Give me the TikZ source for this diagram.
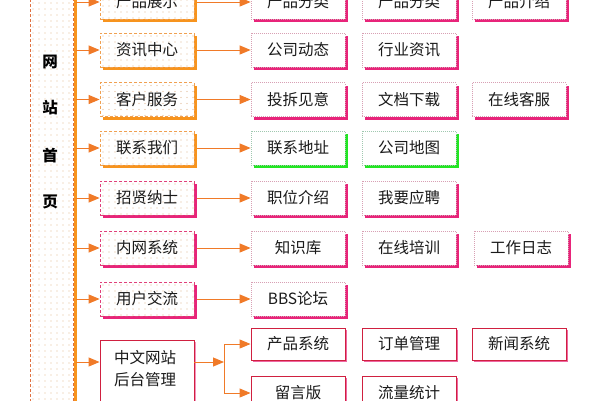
\documentclass[tikz,border=0pt]{standalone}
\usepackage{fontspec}
\setmainfont{Noto Sans CJK SC}
\usetikzlibrary{arrows.meta,shadows}
\definecolor{trunkc}{HTML}{F7941E}
\definecolor{arrc}{HTML}{F07A28}
\definecolor{midor}{HTML}{F0A050}
\definecolor{midpk}{HTML}{E0407A}
\definecolor{shpk}{HTML}{E8247A}
\definecolor{shgr}{HTML}{22E622}
\definecolor{rbord}{HTML}{D8A0B4}
\definecolor{gbord}{HTML}{A0C8B0}
\definecolor{crim}{HTML}{D02040}
\definecolor{dotc}{HTML}{E0B890}
\definecolor{panelc}{HTML}{E07040}
\definecolor{txtc}{HTML}{1A1A1A}
\newcommand{\fs}{\fontsize{15.5}{18}\selectfont}
\tikzset{
  x=1pt, y=-1pt,
  dotty/.style={path picture={\foreach \i in {0,...,16}{\foreach \j in {0,...,12}{%
     \fill[dotc] ([xshift=\i*6pt+3pt,yshift=-\j*6pt-3pt]path picture bounding box.north west) circle (0.6pt);}}}},
  base/.style={minimum width=94pt, minimum height=34pt, inner sep=0pt, font=\fs, text=txtc, fill=white},
  midO/.style={base, dotty, draw=midor, dash pattern=on 3pt off 2pt, line width=0.8pt,
     drop shadow={shadow xshift=3pt,shadow yshift=-3pt,fill=trunkc,opacity=1}},
  midP/.style={base, dotty, draw=midpk, dash pattern=on 3pt off 2pt, line width=0.8pt,
     drop shadow={shadow xshift=3pt,shadow yshift=-3pt,fill=shpk,opacity=1}},
  rbox/.style={base, draw=rbord, dash pattern=on 1pt off 1pt, line width=0.7pt,
     drop shadow={shadow xshift=3pt,shadow yshift=-3pt,fill=shpk,opacity=1}},
  gbox/.style={base, draw=gbord, dash pattern=on 1pt off 1pt, line width=0.7pt,
     drop shadow={shadow xshift=3pt,shadow yshift=-3pt,fill=shgr,opacity=1}},
  cbox/.style={base, draw=crim, line width=0.9pt,
     drop shadow={shadow xshift=1.5pt,shadow yshift=-1.5pt,fill=shpk!70,opacity=1}},
  arr/.style={draw=arrc, line width=1pt, -{Triangle[length=11pt,width=9pt]}, arrc},
  ln/.style={draw=arrc, line width=1pt},
  side/.style={font=\fontsize{15.5}{18}\selectfont\bfseries, text=black, inner sep=0pt}
}
\begin{document}
\begin{tikzpicture}
\useasboundingbox (0,0) rectangle (600,400);
% left panel
\begin{scope}
\clip (30,-6) rectangle (73,406);
\foreach \i in {0,...,7}{\foreach \j in {0,...,70}{\fill[dotc] (33+\i*6,-3+\j*6) circle (0.6pt);}}
\end{scope}
\draw[panelc, dash pattern=on 3pt off 2pt, line width=0.8pt] (30,-6) rectangle (73,406);
\node[side] (w1) at (50,62) {网};
\node[side] (w2) at (50,108) {站};
\node[side] (w3) at (50,156) {首};
\node[side] (w4) at (50,202) {页};
% trunk
\coordinate (ttop) at (75.5,-6);
\coordinate (tbot) at (75.5,406);
\draw[trunkc, line width=3pt] (ttop) -- (tbot);
% middle column
\node[midO] (m1) at (147,2) {产品展示};
\node[midO] (m2) at (147,50) {资讯中心};
\node[midO] (m3) at (147,99.5) {客户服务};
\node[midO] (m4) at (147,148) {联系我们};
\node[midP] (m5) at (147,198) {招贤纳士};
\node[midP] (m6) at (147,248) {内网系统};
\node[midP] (m7) at (147,299) {用户交流};
\node[base, draw=crim, line width=0.9pt, minimum height=72pt,
     drop shadow={shadow xshift=1.5pt,shadow yshift=-1.5pt,fill=shpk!50,opacity=1}] (m8) at (147,376) {};
\node[font=\fs, text=txtc, inner sep=0pt] (m8a) at (145,358) {中文网站};
\node[font=\fs, text=txtc, inner sep=0pt] (m8b) at (145,380) {后台管理};
% trunk arrows
\foreach \k in {1,...,7}{\draw[arr] (ttop |- m\k.west) -- (m\k.west);}
\coordinate (t8) at (75.5,362);
\draw[arr] (t8) -- (t8 -| m8.west);
% right boxes
\node[rbox] (a1) at (298,2) {产品分类};
\node[rbox] (b1) at (409,2) {产品分类};
\node[rbox] (c1) at (519,2) {产品介绍};
\node[rbox] (a2) at (298,50) {公司动态};
\node[rbox] (b2) at (409,50) {行业资讯};
\node[rbox] (a3) at (298,99.5) {投拆见意};
\node[rbox] (b3) at (409,99.5) {文档下载};
\node[rbox] (c3) at (519,99.5) {在线客服};
\node[gbox] (a4) at (298,148) {联系地址};
\node[gbox] (b4) at (409,148) {公司地图};
\node[rbox] (a5) at (298,198) {职位介绍};
\node[rbox] (b5) at (409,198) {我要应聘};
\node[rbox] (a6) at (298,248) {知识库};
\node[rbox] (b6) at (409,248) {在线培训};
\node[rbox] (c6) at (521,248) {工作日志};
\node[rbox] (a7) at (298,299) {BBS论坛};
\node[cbox, minimum height=32pt] (a8) at (298,344) {产品系统};
\node[cbox, minimum height=32pt] (b8) at (409,344) {订单管理};
\node[cbox, minimum height=32pt] (c8) at (519,344) {新闻系统};
\node[cbox] (a9) at (298,393) {留言版};
\node[cbox] (b9) at (409,393) {流量统计};
% middle to right arrows
\foreach \k in {1,...,7}{\draw[arr] ([xshift=3pt]m\k.east) -- (a\k.west);}
% row 8 branch
\coordinate (bj) at (224,362);
\coordinate (bt) at (224,344);
\coordinate (bb) at (224,393);
\draw[arr] (bj -| m8.east) -- (bj);
\draw[ln] (bt) -- (bb);
\draw[arr] (bt) -- (a8.west);
\draw[arr] (bb) -- (a9.west);
\end{tikzpicture}
\end{document}
